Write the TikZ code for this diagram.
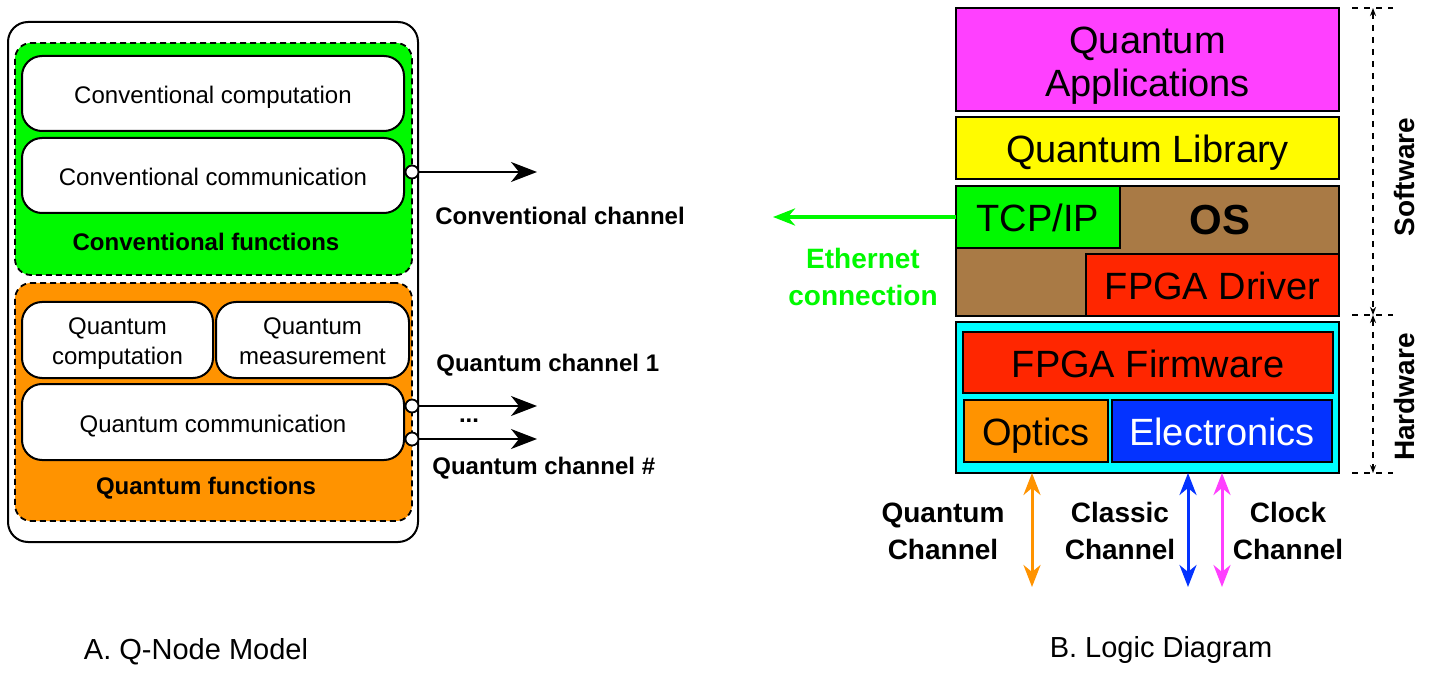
\documentclass[tikz,border=0pt]{standalone}
\usepackage{fontspec}
\setmainfont{Liberation Sans}
\usetikzlibrary{positioning, arrows.meta, calc}
\definecolor{qgreen}{HTML}{00F900}
\definecolor{qorange}{HTML}{FF9300}
\definecolor{qmagenta}{HTML}{FF40FF}
\definecolor{qyellow}{HTML}{FFFB00}
\definecolor{qbrown}{HTML}{A97A45}
\definecolor{qred}{HTML}{FF2600}
\definecolor{qcyan}{HTML}{00FDFF}
\definecolor{qblue}{HTML}{0433FF}

\begin{document}
\begin{tikzpicture}[x=0.5pt, y=-0.5pt,
  fn/.style={draw, line width=1pt, rounded corners=10pt, fill=white, font=\fontsize{12}{15}\selectfont, inner sep=0pt, outer sep=0pt, text height=10.5pt, text depth=0pt},
  grp/.style={draw, dash pattern=on 3pt off 2pt, line width=0.9pt, rounded corners=8pt, inner sep=0pt},
  lay/.style={draw, line width=1.2pt, font=\fontsize{19}{21.5}\selectfont, inner sep=0pt, outer sep=0pt, text height=14.5pt, text depth=0pt},
  two/.style={align=center, text height={}, text depth={}},
  port/.style={circle, draw, fill=white, line width=0.9pt, minimum size=6.5pt, inner sep=0pt},
  lbl/.style={font=\bfseries\fontsize{12}{15}\selectfont, inner sep=0pt},
  chl/.style={font=\bfseries\fontsize{14}{18.5}\selectfont, align=center, inner sep=0pt},
  figcap/.style={font=\fontsize{14.5}{17}\selectfont, inner sep=0pt},
  chtip/.tip={Stealth[length=13pt, width=10pt, inset=4pt]},
  ethtip/.tip={Stealth[length=11pt, width=8.5pt, inset=3.5pt]},
  brtip/.tip={Stealth[length=4pt, width=3pt]}]
  \useasboundingbox (0,0) rectangle (1435,679);

  \node[draw, line width=1pt, rounded corners=10pt, minimum width=205pt, minimum height=260pt, inner sep=0pt] (qnode) at (213,282) {};
  \node[grp, fill=qgreen, minimum width=198.5pt, minimum height=116pt] (conv) at (213.5,159) {};
  \node[fn, minimum width=191pt, minimum height=37.5pt] (ccomp) at (213,93.5) {Conventional computation};
  \node[fn, minimum width=191pt, minimum height=37.5pt, below=3.5pt of ccomp] (ccomm) {Conventional communication};
  \node[lbl] (convlbl) at (206,242) {Conventional functions};
  \node[grp, fill=qorange, minimum width=198.5pt, minimum height=119pt] (quant) at (213.5,402) {};
  \node[fn, two, minimum width=95.5pt, minimum height=38pt] (qcomp) at (117.5,340) {\rule{0pt}{11.8pt}Quantum\\computation};
  \node[fn, two, minimum width=96.5pt, minimum height=38pt, right=1.5pt of qcomp] (qmeas) {\rule{0pt}{11.8pt}Quantum\\measurement\vphantom{p}};
  \node[fn, minimum width=191pt, minimum height=38pt] (qcomm) at (213,422) {Quantum communication};
  \node[lbl] (quantlbl) at (206,488) {Quantum functions};

  \node[port] (p0) at (412,172) {};
  \node[port] (p1) at (412,406) {};
  \node[port] (p2) at (412,439) {};
  \coordinate (e0) at (537,172);
  \coordinate (e1) at (537,406);
  \coordinate (e2) at (537,439);
  \draw[-{chtip}, line width=1pt] (p0) -- (e0);
  \draw[-{chtip}, line width=1pt] (p1) -- (e1);
  \draw[-{chtip}, line width=1pt] (p2) -- (e2);
  \node[lbl, anchor=west] (cch) at (435,216) {Conventional channel};
  \node[lbl, anchor=west] (qch1) at (436,365) {Quantum channel 1};
  \node[lbl] (dots) at (469,421) {...};
  \node[lbl, anchor=west] (qchn) at (432,468) {Quantum channel \#};
  \node[figcap] (capa) at (196,652) {A. Q-Node Model};

  \node[lay, two, fill=qmagenta, minimum width=191.5pt, minimum height=51.5pt] (qapp) at (1147.5,59.5) {\rule{0pt}{19pt}Quantum\\Applications};
  \node[lay, fill=qyellow, minimum width=191.5pt, minimum height=31pt, below=3pt of qapp] (qlib) {Quantum Library};
  \node[lay, fill=qbrown, minimum width=191.5pt, minimum height=65pt, below=3.5pt of qlib] (os) {};
  \node[lay, fill=qgreen, minimum width=82pt, minimum height=31pt, anchor=north west] (tcp) at (os.north west) {TCP/IP};
  \node[lay, fill=qred, minimum width=126.5pt, minimum height=31pt, anchor=south east] (drv) at (os.south east) {FPGA Driver};
  \node[font=\bfseries\fontsize{21}{24}\selectfont, inner sep=0pt] (oslbl) at (1220,220) {OS};
  \node[lay, fill=qcyan, minimum width=191.5pt, minimum height=75.5pt, below=3pt of os] (hw) {};
  \node[lay, fill=qred, minimum width=185pt, minimum height=30.5pt] (fw) at (1148,362.5) {FPGA Firmware};
  \node[lay, fill=qorange, minimum width=72pt, minimum height=31pt] (opt) at (1036,431) {Optics};
  \node[lay, fill=qblue, text=white, minimum width=110pt, minimum height=31pt] (elec) at (1222,431) {Electronics};

  \coordinate (eth) at (773,217);
  \draw[-{ethtip}, line width=2pt, qgreen] (tcp.west) -- (eth);
  \node[chl, text=qgreen] (ethlbl) at (863,277) {Ethernet\\connection};

  \coordinate (qc) at (1032,587);
  \coordinate (cc) at (1188,587);
  \coordinate (kc) at (1222,587);
  \draw[{ethtip}-{ethtip}, line width=1.5pt, qorange] (hw.south -| qc) -- (qc);
  \draw[{ethtip}-{ethtip}, line width=1.5pt, qblue] (hw.south -| cc) -- (cc);
  \draw[{ethtip}-{ethtip}, line width=1.5pt, qmagenta] (hw.south -| kc) -- (kc);
  \node[chl] (qclbl) at (943,531) {Quantum\\Channel};
  \node[chl] (cclbl) at (1120,531) {Classic\\Channel};
  \node[chl] (kclbl) at (1288,531) {Clock\\Channel};

  \coordinate (swt) at (1373,8);
  \coordinate (swb) at (1373,315);
  \coordinate (hwb) at (1373,473);
  \draw[dashed, line width=0.8pt] ($(swt)+(-21,0)$) -- ($(swt)+(20,0)$);
  \draw[dashed, line width=0.8pt] ($(swb)+(-21,0)$) -- ($(swb)+(20,0)$);
  \draw[dashed, line width=0.8pt] ($(hwb)+(-21,0)$) -- ($(hwb)+(20,0)$);
  \draw[dashed, line width=0.8pt, {brtip}-{brtip}] (swt) -- (swb);
  \draw[dashed, line width=0.8pt, {brtip}-{brtip}] (swb) -- (hwb);
  \node[chl, rotate=90] (swlbl) at (1404,177) {Software};
  \node[chl, rotate=90] (hwlbl) at (1404,397) {Hardware};
  \node[figcap] (capb) at (1161,650) {B. Logic Diagram};
\end{tikzpicture}
\end{document}
